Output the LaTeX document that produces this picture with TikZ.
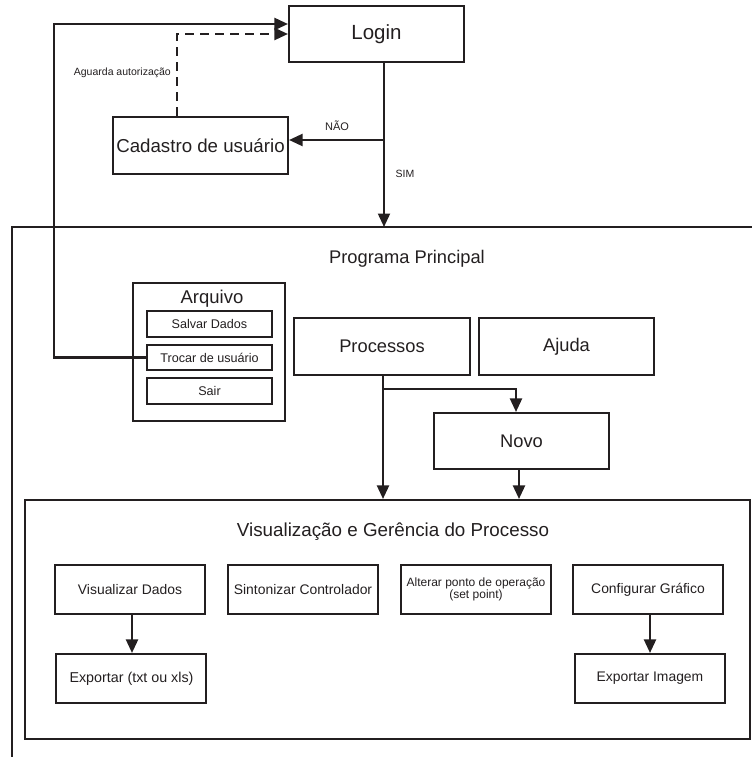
\documentclass[tikz,border=0pt]{standalone}
\usepackage{fontspec}
\setmainfont{Liberation Sans}
\usetikzlibrary{arrows.meta}
\definecolor{ink}{HTML}{231F20}
\tikzset{
  box/.style={draw=ink, line width=2.1pt, rectangle, inner sep=0pt, text=ink, align=center},
  bigbox/.style={box, minimum width=175pt, minimum height=56pt, font=\fontsize{18.3}{21}\selectfont},
  subbox/.style={box, minimum width=125pt, minimum height=26pt, font=\fontsize{12.6}{15}\selectfont},
  procbox/.style={box, minimum width=150pt, minimum height=49pt, font=\fontsize{13.9}{16}\selectfont},
  lbl/.style={text=ink, inner sep=0pt},
  conn/.style={draw=ink, line width=2.1pt},
  arr/.style={conn, -{Triangle[length=13.5pt,width=12pt]}},
}
\begin{document}
\begin{tikzpicture}[x=1pt,y=-1pt]
\useasboundingbox (0,0) rectangle (752,757);
% top part
\node[bigbox, font=\fontsize{20.5}{23}\selectfont] (login) at (376.5,34) {Login};
\node[bigbox, minimum height=57pt, font=\fontsize{18.7}{21}\selectfont] (cad) at (200.5,145.5) {Cadastro de usuário};
% Programa Principal frame (cut off at right and bottom)
\coordinate (ppTop) at (384,227);
\coordinate (ppTL) at (12,227);
\coordinate (ppBL) at (12,757);
\coordinate (ppTR) at (752,227);
\draw[conn] (ppBL) -- (ppTL) -- (ppTR);
\node[lbl, font=\fontsize{18.3}{21}\selectfont] (ppTitle) at (407,259) {Programa Principal};
% login connectors
\coordinate (br1) at (384,140);
\draw[arr] (login.south -| ppTop) -- (ppTop);
\draw[arr] (br1) -- (cad.east |- br1);
\node[lbl, font=\fontsize{11}{13}\selectfont] (nao) at (337,125.5) {NÃO};
\node[lbl, font=\fontsize{10.5}{13}\selectfont] (sim) at (405,174) {SIM};
\coordinate (dashx) at (177,117);
\draw[arr, dash pattern=on 9pt off 6pt] (cad.north -| dashx) |- (login.west);
\node[lbl, font=\fontsize{10.5}{13}\selectfont, anchor=east] (aguarda) at (171,73) {Aguarda autorização};
% Arquivo menu
\node[box, minimum width=152pt, minimum height=138pt] (arq) at (209,352) {};
\node[lbl, font=\fontsize{18.5}{21}\selectfont] (arqTitle) at (212,299) {Arquivo};
\node[subbox] (salvar) at (209.5,324) {Salvar Dados};
\node[subbox, minimum height=25pt] (trocar) at (209.5,357.5) {Trocar de usuário};
\node[subbox] (sair) at (209.5,391) {Sair};
\coordinate (loopTop) at (54,24);
\draw[arr] (trocar.west) -| (loopTop) -- (loopTop -| login.west);
% Processos / Ajuda / Novo
\node[bigbox, minimum width=176pt, minimum height=57pt] (proc) at (382,346.5) {Processos};
\node[bigbox, minimum height=57pt] (ajuda) at (566.5,346.5) {Ajuda};
\node[bigbox] (novo) at (521.5,441) {Novo};
% Visualizacao frame
\node[box, minimum width=725pt, minimum height=239pt] (vis) at (387.5,619.5) {};
\node[lbl, font=\fontsize{18.8}{21}\selectfont] (visTitle) at (393,532) {Visualização e Gerência do Processo};
\coordinate (procx) at (383,375);
\coordinate (br2) at (383,389);
\coordinate (novox) at (516,389);
\coordinate (novoout) at (519,469);
\draw[arr] (procx) -- (procx |- vis.north);
\draw[arr] (br2) -- (novox) -- (novox |- novo.north);
\draw[arr] (novoout) -- (novoout |- vis.north);
% inner boxes
\node[procbox] (vd) at (130,589.5) {Visualizar Dados};
\node[procbox] (sc) at (303,589.5) {Sintonizar Controlador};
\node[procbox, font=\fontsize{12}{12.5}\selectfont] (ap) at (476,589.5) {Alterar ponto de operação\\(set point)};
\node[procbox] (cg) at (648,589.5) {Configurar Gráfico};
\node[procbox, font=\fontsize{14.3}{16}\selectfont] (et) at (131,678.5) {\hspace*{1pt}Exportar (txt ou xls)};
\node[procbox] (ei) at (650,678.5) {Exportar Imagem};
\coordinate (vdx) at (132,614);
\coordinate (cgx) at (650,614);
\draw[arr] (vdx) -- (vdx |- et.north);
\draw[arr] (cgx) -- (cgx |- ei.north);
\end{tikzpicture}
\end{document}
